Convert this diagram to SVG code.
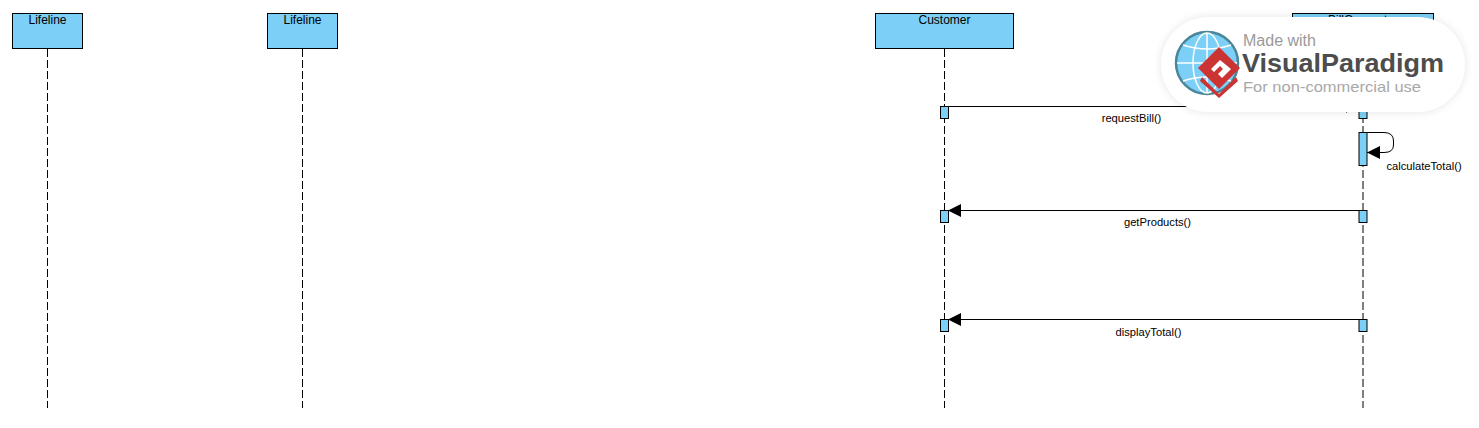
<svg xmlns="http://www.w3.org/2000/svg" width="1479" height="428" viewBox="0 0 1479 428">
<style>
.head{fill:#7ccff6;stroke:#000;stroke-width:1}
.act{fill:#7ccff6;stroke:#000;stroke-width:1}
.life{stroke:#000;stroke-width:1;stroke-dasharray:8 3;fill:none}
.msg{stroke:#000;stroke-width:1;fill:none}
text{font-family:"Liberation Sans",Arial,sans-serif}
.n{font-size:12px;text-anchor:middle;fill:#000}
.m{font-size:11.2px;text-anchor:middle;fill:#000}
.w1{font-size:16px;fill:#9a9a9a}
.w2{font-size:26.5px;font-weight:700;fill:#4d4d4d}
.w3{font-size:15px;fill:#a8a8a8}
</style>
<defs>
<marker id="arrow" markerUnits="userSpaceOnUse" markerWidth="14" markerHeight="14" refX="13" refY="7" orient="auto"><path d="M0 0.500 L13 7 L0 13.500Z" fill="#000"/></marker>
<filter id="sh" x="-10%" y="-30%" width="120%" height="160%"><feGaussianBlur stdDeviation="5"/></filter>
</defs>
<g id="lifeline-1"><line class="life" x1="47.500" y1="49" x2="47.500" y2="408"/><rect class="head" x="12.500" y="13.500" width="70" height="35"/><text class="n" x="47.500" y="24">Lifeline</text></g>
<g id="lifeline-2"><line class="life" x1="302.500" y1="49" x2="302.500" y2="408"/><rect class="head" x="267.500" y="13.500" width="70" height="35"/><text class="n" x="302.500" y="24">Lifeline</text></g>
<g id="customer"><line class="life" x1="944.500" y1="49" x2="944.500" y2="408"/><rect class="head" x="875.500" y="13.500" width="138" height="35"/><text class="n" x="944.500" y="24">Customer</text>
<rect class="act" x="940.500" y="106.500" width="8" height="12"/><rect class="act" x="940.500" y="210.500" width="8" height="12"/><rect class="act" x="940.500" y="319.500" width="8" height="12"/></g>
<g id="bill-generator"><line class="life" x1="1363" y1="49" x2="1363" y2="408"/><rect class="head" x="1292.500" y="13.500" width="141" height="35"/><text class="n" x="1363" y="24">BillGenerator</text>
<rect class="act" x="1359" y="106.500" width="8" height="12"/><rect class="act" x="1359" y="132.500" width="8" height="33"/><rect class="act" x="1359" y="210.500" width="8" height="12"/><rect class="act" x="1359" y="319.500" width="8" height="12"/></g>
<g id="connectors">
<line class="msg" x1="948" y1="106.500" x2="1358.500" y2="106.500" marker-end="url(#arrow)"/>
<path class="msg" d="M1367 132.500 H1384 Q1393.500 132.500 1393.500 141 V145 Q1393.500 152.500 1384 152.500 H1367" marker-end="url(#arrow)"/>
<line class="msg" x1="1359" y1="210.500" x2="948" y2="210.500" marker-end="url(#arrow)"/>
<line class="msg" x1="1359" y1="319.500" x2="948" y2="319.500" marker-end="url(#arrow)"/>
<text class="m" x="1131.500" y="122">requestBill()</text>
<text class="m" x="1424" y="170">calculateTotal()</text>
<text class="m" x="1157.500" y="226">getProducts()</text>
<text class="m" x="1148.500" y="336">displayTotal()</text>
</g>
<g id="watermark">
<rect x="1161" y="17" width="304" height="95" rx="47" fill="#000" opacity=".1" filter="url(#sh)"/>
<rect x="1161" y="17" width="304" height="95" rx="47" fill="#fff"/>
<circle cx="1207" cy="63" r="31" fill="#7ccff6" stroke="#4a8598" stroke-width="2.500"/>
<g fill="none" stroke="#fff" stroke-width="1.500"><ellipse cx="1207" cy="63" rx="14" ry="30"/><line x1="1207" y1="33" x2="1207" y2="93"/><line x1="1177" y1="63" x2="1237" y2="63"/><path d="M1183 45 Q1207 53 1231 45M1183 81 Q1207 73 1231 81"/></g>
<path d="M1219 47 L1240 68 L1219 89 L1198 68Z" fill="#cc3333"/>
<path d="M1202 77 L1219 94 L1236 77 L1238 81 L1219 98 L1200 81Z" fill="#cc3333"/>
<path d="M1220 60 L1231 69 L1222 78 L1218 74 L1223 69 L1220 66 L1214 72 L1211 69Z" fill="#fff"/>
<text class="w1" x="1243" y="46">Made with</text>
<text class="w2" x="1242" y="72" textLength="202" lengthAdjust="spacingAndGlyphs">VisualParadigm</text>
<text class="w3" x="1243" y="92" textLength="178" lengthAdjust="spacingAndGlyphs">For non-commercial use</text>
</g>
</svg>
